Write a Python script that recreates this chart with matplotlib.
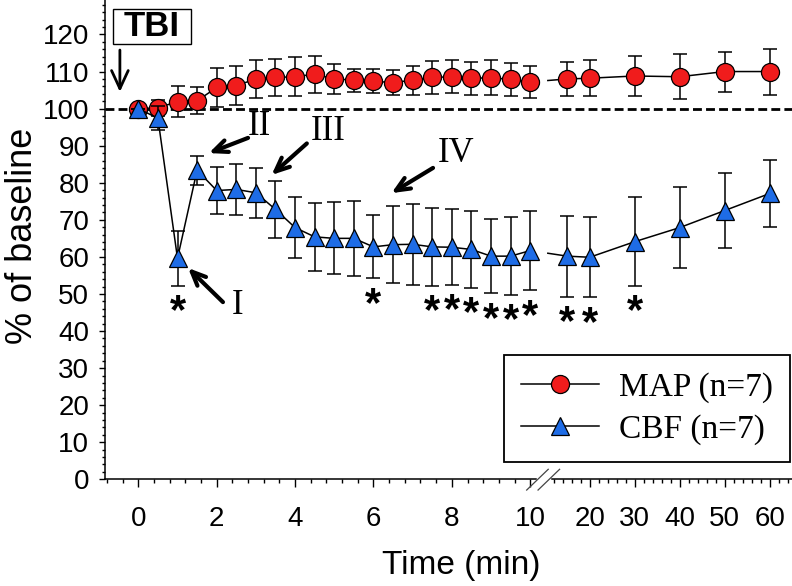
import numpy as np
import matplotlib.pyplot as plt
from matplotlib.lines import Line2D
from matplotlib.patches import Rectangle
from matplotlib.ticker import FixedLocator, FixedFormatter, NullFormatter

plt.rcParams['font.family'] = ['Liberation Sans', 'DejaVu Sans']

# time points (min) and values
times = [0, 0.5, 1, 1.5, 2, 2.5, 3, 3.5, 4, 4.5, 5, 5.5, 6, 6.5, 7, 7.5, 8, 8.5,
         9, 9.5, 10, 15, 20, 30, 40, 50, 60]
map_mean = [100, 100.2, 101.9, 102.1, 105.7, 106.2, 108.0, 108.4, 108.6, 109.3,
            108.0, 107.7, 107.4, 107.0, 107.7, 108.4, 108.6, 108.2, 108.3, 107.9,
            107.2, 108.0, 108.2, 108.8, 108.6, 110.0, 110.0]
map_err = [0, 2.2, 4.2, 3.6, 5.2, 5.3, 5.2, 5.1, 5.2, 5.0, 4.0, 3.1, 3.3, 3.4,
           3.9, 4.5, 4.5, 4.5, 4.7, 4.5, 4.3, 4.6, 4.9, 5.3, 6.1, 5.4, 6.2]
cbf_mean = [100, 97.4, 59.6, 83.4, 77.9, 78.2, 77.3, 72.8, 67.9, 65.4, 65.0, 65.0,
            62.7, 63.3, 63.4, 62.7, 62.6, 62.0, 60.2, 60.2, 61.7, 60.2, 59.9, 64.1,
            67.9, 72.5, 77.1]
cbf_err = [0, 3.3, 7.5, 3.9, 6.3, 6.8, 6.8, 7.7, 8.2, 9.2, 9.7, 10.1, 8.5, 10.3,
           10.9, 10.5, 10.2, 10.4, 10.0, 10.5, 10.7, 10.9, 10.8, 12.0, 11.0, 10.2, 9.0]
sig_times = [1, 6, 7.5, 8, 8.5, 9, 9.5, 10, 15, 20, 30]

early_ticks = [0, 2, 4, 6, 8, 10]
late_ticks = [20, 30, 40, 50, 60]

# broken time axis: 0-10 min linear, after the break compressed
LATE_START = 10.37
LATE_SCALE = 0.1148
BREAK_U = 10.33


def xpos(t):
    t = np.asarray(t, float)
    return np.where(t <= 10, t, LATE_START + (t - 10) * LATE_SCALE)


fig = plt.figure(figsize=(7.92, 5.86), dpi=100)
ax = fig.add_axes([105 / 792, 106.7 / 586, 687 / 792, 479.3 / 586])

u = xpos(times)
tt = np.array(times)
early = tt <= 10
late = tt > 10
i10 = times.index(10)
i15 = times.index(15)

series = [
    (map_mean, map_err, 'o', 13, '#f01c1c', 3),
    (cbf_mean, cbf_err, '^', 12.5, '#1e6ce6', 6),
]
for mean, err, mk, ms, fc, z in series:
    mean = np.array(mean)
    ax.errorbar(u, mean, yerr=err, fmt='none', ecolor='black', elinewidth=1.1,
                capsize=4.7, capthick=1.1, zorder=z)
    ax.plot(u[early], mean[early], color='black', lw=1.1, zorder=z + 0.5)
    ax.plot(u[late], mean[late], color='black', lw=1.1, zorder=z + 0.5)
    # short stub of the connecting line right of the axis break
    ub = BREAK_U + 0.12
    yb = mean[i10] + (mean[i15] - mean[i10]) * (ub - u[i10]) / (u[i15] - u[i10])
    ax.plot([ub, u[i15]], [yb, mean[i15]], color='black', lw=1.1, zorder=z + 0.5)
    ax.plot(u, mean, ls='none', marker=mk, ms=ms, mfc=fc, mec='black', mew=0.9,
            zorder=z + 1)

ax.axhline(100, color='black', lw=2, dashes=(3.2, 1.5), zorder=1)

# significance marks under CBF error bars
for t in sig_times:
    i = times.index(t)
    ax.annotate('*', (xpos(t), cbf_mean[i] - cbf_err[i]), xytext=(0, -19),
                textcoords='offset points', ha='center', va='center',
                fontsize=30, fontweight='bold')

# phase annotations
arrow = dict(arrowstyle='->,head_length=0.5,head_width=0.22', lw=3,
             color='black', shrinkA=0, shrinkB=0, mutation_scale=20)
notes = [
    ('I', (1.27, 57.0), (2.16, 47.8), (2.54, 47.0)),
    ('II', (1.80, 88.0), (2.80, 92.1), (3.10, 95.1)),
    ('III', (3.40, 82.1), (4.30, 90.6), (4.84, 93.8)),
    ('IV', (6.46, 77.2), (7.52, 84.0), (8.12, 88.0)),
]
for label, tip, tail, txt in notes:
    ax.annotate('', xy=tip, xytext=tail, arrowprops=arrow)
    ax.text(txt[0], txt[1], label, ha='center', va='center',
            family='Liberation Serif', fontsize=25)

ax.annotate('', xy=(-0.47, 104.5), xytext=(-0.47, 115.8),
            arrowprops=dict(arrowstyle='->,head_length=0.65,head_width=0.3',
                            lw=2, color='black', shrinkA=0, shrinkB=0,
                            mutation_scale=20),
            annotation_clip=False)
ax.add_patch(Rectangle((-0.65, 117.4), 2.0, 9.4, fc='white', ec='black',
                       lw=1, clip_on=False, zorder=7))
ax.text(0.35, 122.1, 'TBI', ha='center', va='center', fontsize=25,
        fontweight='bold', zorder=8)

# axes
ax.set_xlim(-0.85, 16.68)
ax.set_ylim(0, 129.3)
ax.spines['top'].set_visible(False)
ax.spines['right'].set_visible(False)
for s in ('left', 'bottom'):
    ax.spines[s].set_linewidth(1.1)

ax.yaxis.set_major_locator(FixedLocator(np.arange(0, 121, 10)))
ax.yaxis.set_minor_locator(FixedLocator(np.arange(0, 129, 2)))

maj_u = list(xpos(early_ticks)) + list(xpos(late_ticks))
maj_lab = [str(t) for t in early_ticks + late_ticks]
ax.xaxis.set_major_locator(FixedLocator(maj_u))
ax.xaxis.set_major_formatter(FixedFormatter(maj_lab))
minor_early = [v for v in np.arange(-0.8, 10.0, 0.4) if abs(v / 2 - round(v / 2)) > 0.01]
minor_late = [v for v in range(12, 65, 2) if v % 10]
ax.xaxis.set_minor_locator(FixedLocator(minor_early + list(xpos(minor_late))))
ax.xaxis.set_minor_formatter(NullFormatter())

ax.tick_params(axis='y', which='major', direction='out', length=4.3, width=1,
               labelsize=20, pad=7)
ax.tick_params(axis='y', which='minor', direction='out', length=2.2, width=1)
ax.tick_params(axis='x', which='major', direction='out', length=5.5, width=1,
               labelsize=20, pad=14)
ax.tick_params(axis='x', which='minor', direction='out', length=3, width=1)

ax.set_ylabel('% of baseline', fontsize=26)
ax.yaxis.set_label_coords(-0.095, 0.508)
ax.set_xlabel('Time (min)', fontsize=24)
ax.xaxis.label.set_va('center')
ax.xaxis.set_label_coords(0.518, -0.179)

# axis break marks
for du in (0.0, 0.29):
    ax.plot([9.91 + du, 10.46 + du], [-2.9, 2.7], color='#444444', lw=0.9,
            clip_on=False, zorder=9)
ax.plot([10.2, 10.47], [0, 0], color='white', lw=2.5, clip_on=False, zorder=8)

handles = [
    Line2D([], [], color='black', lw=1.1, marker='o', ms=13, mfc='#f01c1c',
           mec='black', mew=0.9),
    Line2D([], [], color='black', lw=1.1, marker='^', ms=12.5, mfc='#1e6ce6',
           mec='black', mew=0.9),
]
leg = ax.legend(handles, ['MAP (n=7)', 'CBF (n=7)'], loc='lower right',
                bbox_to_anchor=(790 / 792, 124.3 / 586),
                bbox_transform=fig.transFigure, borderaxespad=0,
                prop=dict(family='Liberation Serif', size=24), fancybox=False,
                framealpha=1, edgecolor='black', handlelength=2.35,
                handletextpad=0.6, labelspacing=0.35, borderpad=0.5)
leg.get_frame().set_linewidth(1.3)

fig.savefig('out.png', dpi=100)
